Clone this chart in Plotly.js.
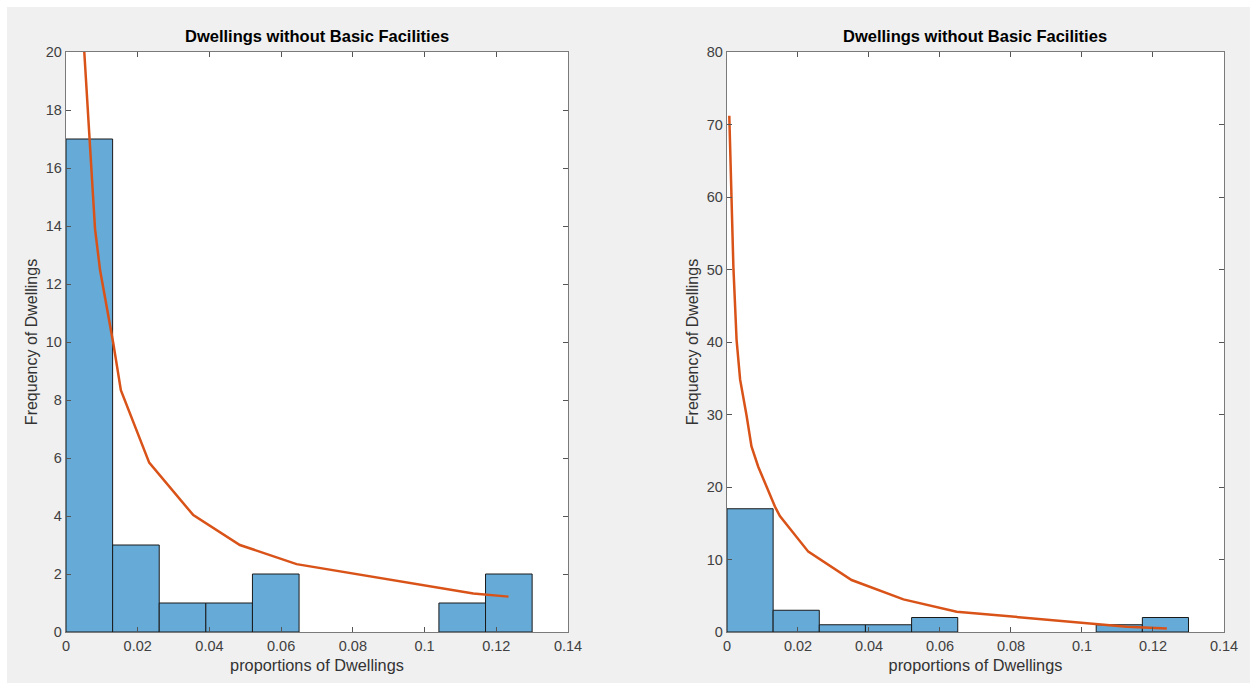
<!DOCTYPE html>
<html>
<head>
<meta charset="utf-8">
<script src="https://cdn.plot.ly/plotly-3.0.1.min.js"></script>
<style>
  html, body { margin: 0; padding: 0; background: #ffffff; width: 1250px; height: 683px; overflow: hidden; }
  #chart { position: absolute; left: 7px; top: 7px; width: 1243px; height: 676px; }
</style>
</head>
<body>
<div id="chart"></div>
<script>
// ---- data ----
const binEdges = [0, 0.013, 0.026, 0.039, 0.052, 0.065, 0.078, 0.091, 0.104, 0.117, 0.13];
const counts = [17, 3, 1, 1, 2, 0, 0, 0, 1, 2];

const fitXLeft = [0.0051, 0.0065, 0.0081, 0.0095, 0.0132, 0.0153, 0.0232, 0.0355, 0.0485, 0.0643, 0.0850, 0.1136, 0.1234];
const fitYLeft = [20, 16.97, 13.9, 12.48, 9.95, 8.34, 5.84, 4.03, 3.0, 2.34, 1.91, 1.33, 1.22];

const fitXRight = [0.00065, 0.0013, 0.0018, 0.0027, 0.0037, 0.0055, 0.0069, 0.0088, 0.0135, 0.0149, 0.0229, 0.0351, 0.0497, 0.0647, 0.085, 0.1004, 0.1126, 0.1239];
const fitYRight = [71.2, 60, 50.4, 40.3, 34.8, 29.9, 25.6, 22.8, 17.3, 16.0, 11.08, 7.17, 4.5, 2.8, 1.9, 1.2, 0.73, 0.5];

const chartTitle = 'Dwellings without Basic Facilities';
const xLabel = 'proportions of Dwellings';
const yLabel = 'Frequency of Dwellings';

// ---- derived bar geometry from bins (non-empty bins only) ----
const barX = [], barY = [], barW = [];
for (let i = 0; i < counts.length; i++) {
  if (counts[i] > 0) {
    barX.push((binEdges[i] + binEdges[i + 1]) / 2);
    barY.push(counts[i]);
    barW.push(binEdges[i + 1] - binEdges[i]);
  }
}

const barColor = 'rgb(102,170,215)';
const lineColor = '#D95319';
const font = 'Liberation Sans, Arial, Helvetica, sans-serif';

function bars(xa, ya) {
  return {
    type: 'bar', x: barX, y: barY, width: barW, xaxis: xa, yaxis: ya,
    marker: { color: barColor, line: { color: '#1a1a1a', width: 1 } },
    hoverinfo: 'x+y', showlegend: false
  };
}
function fit(x, y, xa, ya) {
  return {
    type: 'scatter', mode: 'lines', x: x, y: y, xaxis: xa, yaxis: ya,
    line: { color: lineColor, width: 2.5 }, showlegend: false
  };
}

const traces = [
  bars('x', 'y'), fit(fitXLeft, fitYLeft, 'x', 'y'),
  bars('x2', 'y2'), fit(fitXRight, fitYRight, 'x2', 'y2')
];

function xAxis(domain, anchor) {
  return {
    domain: domain, anchor: anchor, range: [0, 0.14], dtick: 0.02, tick0: 0,
    showgrid: false, zeroline: false, showline: true, linecolor: '#7a7a7a', linewidth: 1.2,
    mirror: 'ticks', ticks: 'inside', ticklen: 5, tickcolor: '#555555',
    tickfont: { family: font, size: 14.5, color: '#404040' },
    title: { text: xLabel, font: { family: font, size: 16.3, color: '#333333' }, standoff: 7 },
    fixedrange: true
  };
}
function yAxis(range, dtick, anchor) {
  return {
    anchor: anchor, domain: [0, 1], range: range, dtick: dtick, tick0: 0,
    showgrid: false, zeroline: false, showline: true, linecolor: '#7a7a7a', linewidth: 1.2,
    mirror: 'ticks', ticks: 'inside', ticklen: 5, tickcolor: '#555555',
    tickfont: { family: font, size: 14.5, color: '#404040' },
    title: { text: yLabel, font: { family: font, size: 16, color: '#333333' }, standoff: 4 },
    fixedrange: true
  };
}

const layout = {
  width: 1243, height: 676,
  margin: { l: 59, r: 26, t: 45, b: 51 },
  paper_bgcolor: '#f0f0f0', plot_bgcolor: '#ffffff',
  bargap: 0, barmode: 'overlay',
  xaxis: xAxis([0, 0.4335], 'y'),
  yaxis: yAxis([0, 20], 2, 'x'),
  xaxis2: xAxis([0.5708, 1.0], 'y2'),
  yaxis2: yAxis([0, 80], 10, 'x2'),
  annotations: [
    { text: '<b>' + chartTitle + '</b>', xref: 'paper', yref: 'paper', x: 0.4335 / 2, y: 1,
      xanchor: 'center', yanchor: 'bottom', yshift: 5, showarrow: false,
      font: { family: font, size: 16.5, color: '#000000' } },
    { text: '<b>' + chartTitle + '</b>', xref: 'paper', yref: 'paper', x: (0.5708 + 1.0) / 2, y: 1,
      xanchor: 'center', yanchor: 'bottom', yshift: 5, showarrow: false,
      font: { family: font, size: 16.5, color: '#000000' } }
  ]
};

Plotly.newPlot('chart', traces, layout, { displayModeBar: false, staticPlot: true });
</script>
</body>
</html>
